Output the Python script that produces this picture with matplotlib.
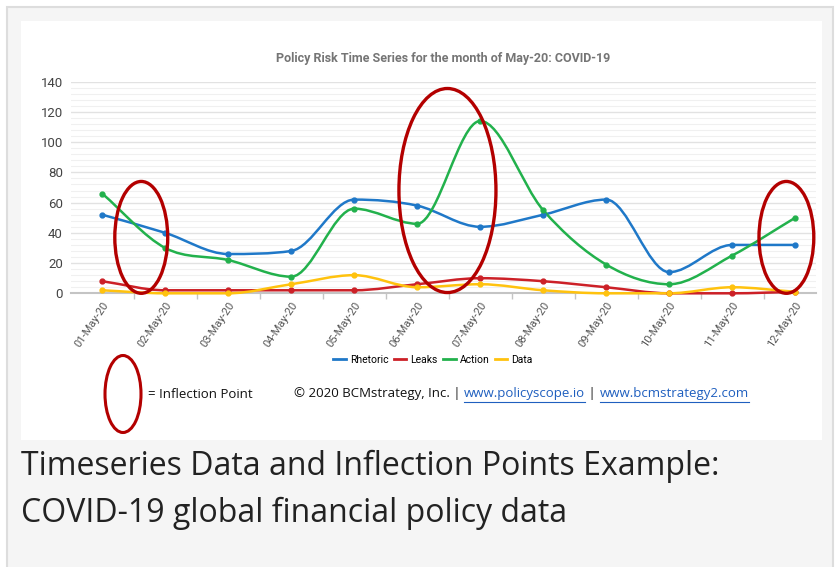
import numpy as np
import matplotlib.pyplot as plt
from matplotlib.path import Path
from matplotlib.patches import PathPatch, Ellipse, Rectangle
from matplotlib.lines import Line2D

days = ["01-May-20", "02-May-20", "03-May-20", "04-May-20", "05-May-20", "06-May-20",
        "07-May-20", "08-May-20", "09-May-20", "10-May-20", "11-May-20", "12-May-20"]
rhetoric = [52, 40, 26, 28, 62, 58, 44, 52, 62, 14, 32, 32]
leaks = [8, 2, 2, 2, 2, 6, 10, 8, 4, 0, 0, 1]
action = [66, 30, 22, 11, 56, 46, 114, 55, 19, 6, 25, 50]
data = [2, 0, 0, 6, 12, 4, 6, 2, 0, 0, 4, 1]

series = [("Rhetoric", rhetoric, "#1f78c8"),
          ("Leaks", leaks, "#cc2027"),
          ("Action", action, "#22b14c"),
          ("Data", data, "#ffc20e")]

W, H = 836, 567


def smooth_path(x, y):
    # smoothed line drawn as cubic beziers through every point,
    # flat tangent at local peaks/dips so curves don't overshoot
    n = len(x)
    m = np.zeros(n)
    for i in range(n):
        if i == 0:
            m[i] = y[1] - y[0]
        elif i == n - 1:
            m[i] = y[-1] - y[-2]
        elif (y[i] - y[i - 1]) * (y[i + 1] - y[i]) <= 0:
            m[i] = 0
        else:
            lim = 3 * min(abs(y[i] - y[i - 1]), abs(y[i + 1] - y[i]))
            m[i] = np.clip((y[i + 1] - y[i - 1]) / 2, -lim, lim)
    verts = [(x[0], y[0])]
    codes = [Path.MOVETO]
    for i in range(n - 1):
        c1 = (x[i] + 1 / 3, y[i] + m[i] / 3)
        c2 = (x[i + 1] - 1 / 3, y[i + 1] - m[i + 1] / 3)
        verts += [c1, c2, (x[i + 1], y[i + 1])]
        codes += [Path.CURVE4] * 3
    return Path(verts, codes)


fig = plt.figure(figsize=(W / 100, H / 100), dpi=100)
fig.patch.set_facecolor("white")

# page frame and white panel (pixel coords -> figure fractions)
def px(x0, y0, x1, y1):
    return (x0 / W, 1 - y1 / H), (x1 - x0) / W, (y1 - y0) / H

xy, w, h = px(7, 7, 833, 575)
fig.patches.append(Rectangle(xy, w, h, transform=fig.transFigure, facecolor="#f5f5f5",
                             edgecolor="#dddddd", lw=1.5, zorder=-3))
xy, w, h = px(21, 21, 822, 440)
fig.patches.append(Rectangle(xy, w, h, transform=fig.transFigure, facecolor="white",
                             edgecolor="none", zorder=-2))

ax = fig.add_axes([70.7 / W, 1 - 293.3 / H, (816 - 70.7) / W, (293.3 - 81.7) / H])
ax.set_facecolor("none")
ax.set_zorder(1)

x = np.arange(len(days))
for name, vals, col in series:
    ax.add_patch(PathPatch(smooth_path(x, vals), facecolor="none", edgecolor=col, lw=1.8,
                           zorder=3, clip_on=False))
    ax.plot(x, vals, "o", color=col, ms=3.5, zorder=4, clip_on=False)

ax.set_xlim(-0.5, 11.33)
ax.set_ylim(0, 140)
ax.set_yticks(np.arange(0, 141, 20))
ax.set_yticks(np.arange(0, 141, 4), minor=True)
ax.grid(axis="y", which="major", color="#e2e2e2", lw=1.0)
ax.grid(axis="y", which="minor", color="#f0f0f0", lw=0.8)
ax.set_axisbelow(True)
for s in ["top", "right", "left"]:
    ax.spines[s].set_visible(False)
ax.spines["bottom"].set_color("#c4c4c4")
ax.spines["bottom"].set_linewidth(1.5)
ax.tick_params(axis="y", which="both", length=0, pad=5.5, labelsize=9.5, labelcolor="#444444")
ax.set_yticklabels([str(v) for v in range(0, 141, 20)], fontfamily="Roboto")

ax.set_xticks(x)
ax.set_xticklabels(days, rotation=56, ha="right", rotation_mode="anchor", fontsize=8,
                   color="#555555", fontfamily="Roboto")
ax.tick_params(axis="x", which="major", length=0, pad=5)
ax.set_xticks(x[:-1] + 0.5, minor=True)
ax.tick_params(axis="x", which="minor", length=4, color="#c4c4c4", width=1)

ax.set_title("Policy Risk Time Series for the month of May-20: COVID-19", fontsize=9,
             fontweight="bold", color="#757575", fontfamily="Roboto", pad=14)

# inflection point ellipses
ring = "#b30000"
for cx, cy, ew, eh in [(0.62, 37, 0.84, 74), (5.48, 68, 1.54, 135), (10.86, 37, 0.87, 74)]:
    ax.add_patch(Ellipse((cx, cy), ew, eh, facecolor="none", edgecolor=ring, lw=2.4,
                         zorder=6, clip_on=False))

handles = [Line2D([], [], color=c, lw=2) for _, _, c in series]
fig.legend(handles, [n for n, _, _ in series], loc="center", bbox_to_anchor=(433 / W, 1 - 360 / H),
           ncol=4, frameon=False, handlelength=1.2, handletextpad=0.4,
           columnspacing=0.5, prop={"family": "Roboto", "size": 7.5})

# legend ellipse + footer text
fig.patches.append(Ellipse((123 / W, 1 - 394 / H), 36 / W, 77 / H, transform=fig.transFigure,
                           facecolor="none", edgecolor=ring, lw=2.2, zorder=5))
fig.text(148 / W, 1 - 395 / H, "= Inflection Point", fontsize=9.5, va="center",
         fontfamily="Open Sans", color="#111111")

parts = [("© 2020 BCMstrategy, Inc. | ", "#111111", False),
         ("www.policyscope.io", "#1f5fbf", True),
         (" | ", "#111111", False),
         ("www.bcmstrategy2.com", "#1f5fbf", True)]
renderer = fig.canvas.get_renderer()
xpos = 294
for txt, col, link in parts:
    t = fig.text(xpos / W, 1 - 393 / H, txt, fontsize=9.5, va="center", color=col,
                 fontfamily="Open Sans")
    bb = t.get_window_extent(renderer)
    if link:
        fig.lines.append(Line2D([bb.x0 / W, bb.x1 / W], [1 - 402 / H, 1 - 402 / H],
                                transform=fig.transFigure, color=col, lw=0.8))
    xpos += bb.width

fig.text(21 / W, 1 - 466 / H, "Timeseries Data and Inflection Points Example:", fontsize=23,
         va="center", color="#222222", fontfamily="Open Sans")
fig.text(21 / W, 1 - 513 / H, "COVID-19 global financial policy data", fontsize=23,
         va="center", color="#222222", fontfamily="Open Sans")

fig.savefig("out.png", dpi=100)
